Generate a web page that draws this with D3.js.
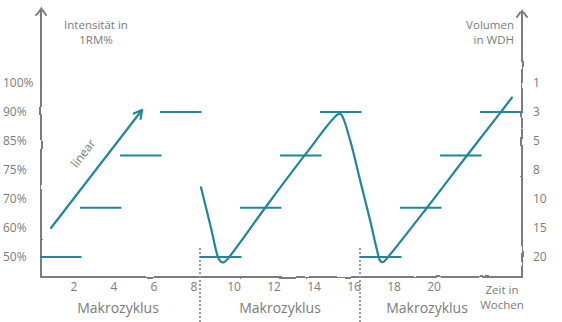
<!DOCTYPE html>
<html>
<head>
<meta charset="utf-8">
<script src="https://cdn.jsdelivr.net/npm/d3@7"></script>
<style>
  html, body { margin: 0; padding: 0; background: #fff; }
  svg { display: block; font-family: "Open Sans", "DejaVu Sans", sans-serif; }
</style>
</head>
<body>
<svg id="chart" width="562" height="322"></svg>
<script>
// ---- data ----
const intensityTicks = [50, 60, 70, 75, 85, 90, 100];          // left axis (% 1RM)
const intensityLabels = ["50%", "60%", "70%", "75%", "85%", "90%", "100%"];
const volumeLabels = ["20", "15", "10", "8", "5", "3", "1"];    // right axis (WDH), same rows
const weekTicks = [2, 4, 6, 8, 10, 12, 14, 16, 18, 20];
const cycleStarts = [0, 8, 16];                                  // macrocycle start weeks
const stepIntensity = [50, 67, 80, 90];                          // step loading, 2 weeks each
const stepWeeks = 2;
const cycleDividers = [8, 16];
const cycleName = "Makrozyklus";

// linear progression (first macrocycle, arrow)
const linearWeeks = [0.55, 5.1];
const linearIntensity = [60, 90.7];

// undulating progression (second and third macrocycle)
const waveWeeks =     [8.05, 8.55, 8.9, 9.05, 9.2, 9.4, 11.25, 13.25, 14.9, 15.05, 15.5, 16.0, 16.5, 16.85, 17.0, 17.15, 17.4, 19.35, 21.35, 23.0, 23.6];
const waveIntensity = [72,   60,   50,  48.3, 48.2, 49.5, 66.9, 80.2,  89.6, 89.6, 85.2, 73.3, 62.8, 52.4,  48.8, 48.2,  50,   67,    80,    89.8, 95];

// ---- layout ----
const svg = d3.select("#chart");
const teal = "#1f8799";
const grey = "#7b7b7b";
const axisLeft = 41, axisRight = 522, axisBottom = 277, axisTop = 8;

const x = d3.scaleLinear().domain([0, 24]).range([40, 520]);
const rowY = d3.range(intensityTicks.length).map(i => 257 - i * 29);
const y = d3.scaleLinear().domain(intensityTicks).range(rowY);

// slight hand-drawn wobble for the axes
const defs = svg.append("defs");
const f = defs.append("filter").attr("id", "wobble").attr("x", "-5%").attr("y", "-5%").attr("width", "110%").attr("height", "110%");
f.append("feTurbulence").attr("type", "fractalNoise").attr("baseFrequency", 0.06).attr("numOctaves", 2).attr("seed", 3).attr("result", "n");
f.append("feDisplacementMap").attr("in", "SourceGraphic").attr("in2", "n").attr("scale", 2.2).attr("xChannelSelector", "R").attr("yChannelSelector", "G");

// ---- axes ----
const axes = svg.append("g").attr("filter", "url(#wobble)")
  .attr("stroke", grey).attr("stroke-width", 2).attr("fill", "none").attr("stroke-linecap", "round");
axes.append("path").attr("d", `M${axisLeft},${axisBottom} L${axisLeft},${axisTop} M${axisLeft - 5},${axisTop + 7} L${axisLeft},${axisTop} L${axisLeft + 5},${axisTop + 7}`);
axes.append("path").attr("d", `M${axisRight},${axisBottom} L${axisRight},${axisTop + 2} M${axisRight - 5},${axisTop + 9} L${axisRight},${axisTop + 2} L${axisRight + 5},${axisTop + 9}`);
axes.append("path").attr("d", `M${axisLeft},${axisBottom} L${axisRight},${axisBottom}`);

// left tick labels
svg.append("g").selectAll("text").data(intensityTicks).join("text")
  .attr("x", 3).attr("y", d => y(d)).attr("dy", "0.35em")
  .attr("font-size", 12).attr("fill", grey)
  .text((d, i) => intensityLabels[i]);

// right tick labels
svg.append("g").selectAll("text").data(intensityTicks).join("text")
  .attr("x", 533).attr("y", d => y(d)).attr("dy", "0.35em")
  .attr("font-size", 12).attr("fill", grey)
  .text((d, i) => volumeLabels[i]);

// bottom tick labels
svg.append("g").selectAll("text").data(weekTicks).join("text")
  .attr("x", d => x(d) - 6).attr("y", 287).attr("dy", "0.35em")
  .attr("text-anchor", "middle").attr("font-size", 12).attr("fill", grey)
  .text(d => d);

// axis titles
const t1 = svg.append("text").attr("text-anchor", "middle").attr("font-size", 11.5).attr("fill", grey);
t1.append("tspan").attr("x", 96).attr("y", 29).text("Intensität in");
t1.append("tspan").attr("x", 96).attr("y", 44).text("1RM%");
const t2 = svg.append("text").attr("text-anchor", "end").attr("font-size", 11.5).attr("fill", grey);
t2.append("tspan").attr("x", 514).attr("y", 29).text("Volumen");
t2.append("tspan").attr("x", 514).attr("y", 44).text("in WDH");
const t3 = svg.append("text").attr("text-anchor", "middle").attr("font-size", 11.5).attr("fill", grey);
t3.append("tspan").attr("x", 502).attr("y", 294).text("Zeit in");
t3.append("tspan").attr("x", 502).attr("y", 309).text("Wochen");

// macrocycle dividers
svg.append("g").selectAll("line").data(cycleDividers).join("line")
  .attr("x1", d => x(d)).attr("x2", d => x(d)).attr("y1", 248).attr("y2", 322)
  .attr("stroke", "#9a9a9a").attr("stroke-width", 2).attr("stroke-dasharray", "2,2");

// macrocycle labels
const labelOffset = [-0.1, 0, -0.65];
svg.append("g").selectAll("text").data(cycleStarts).join("text")
  .attr("x", (d, i) => x(d + 4 + labelOffset[i])).attr("y", 308).attr("dy", "0.35em")
  .attr("text-anchor", "middle").attr("font-size", 14).attr("fill", grey)
  .text(cycleName);

// ---- step bars ----
const steps = cycleStarts.flatMap(c => stepIntensity.map((v, i) => ({ w0: c + i * stepWeeks, w1: c + (i + 1) * stepWeeks, v })));
svg.append("g").selectAll("line").data(steps).join("line")
  .attr("x1", d => x(d.w0)).attr("x2", d => x(d.w1) + 1.5)
  .attr("y1", d => y(d.v)).attr("y2", d => y(d.v))
  .attr("stroke", teal).attr("stroke-width", 2);

// ---- linear progression with arrow ----
const linPts = linearWeeks.map((w, i) => [x(w), y(linearIntensity[i])]);
svg.append("path")
  .attr("d", d3.line()(linPts))
  .attr("stroke", teal).attr("stroke-width", 2.2).attr("fill", "none").attr("stroke-linecap", "round");
{
  const [p0, p1] = linPts;
  const ang = Math.atan2(p1[1] - p0[1], p1[0] - p0[0]);
  const L = 9, spread = 0.5;
  const a1 = [p1[0] - L * Math.cos(ang - spread), p1[1] - L * Math.sin(ang - spread)];
  const a2 = [p1[0] - L * Math.cos(ang + spread), p1[1] - L * Math.sin(ang + spread)];
  svg.append("path").attr("d", d3.line()([a1, p1, a2]))
    .attr("stroke", teal).attr("stroke-width", 2.2).attr("fill", "none")
    .attr("stroke-linecap", "round").attr("stroke-linejoin", "round");
  const mid = [(p0[0] + p1[0]) / 2, (p0[1] + p1[1]) / 2];
  svg.append("text")
    .attr("transform", `translate(${mid[0] - 10},${mid[1] - 13}) rotate(${ang * 180 / Math.PI})`)
    .attr("text-anchor", "middle").attr("font-size", 12).attr("fill", grey)
    .text("linear");
}

// ---- undulating progression ----
svg.append("path")
  .attr("d", d3.line().curve(d3.curveCatmullRom.alpha(0.5))(waveWeeks.map((w, i) => [x(w), y(waveIntensity[i])])))
  .attr("stroke", teal).attr("stroke-width", 2.2).attr("fill", "none")
  .attr("stroke-linecap", "round").attr("stroke-linejoin", "round");
</script>
</body>
</html>
